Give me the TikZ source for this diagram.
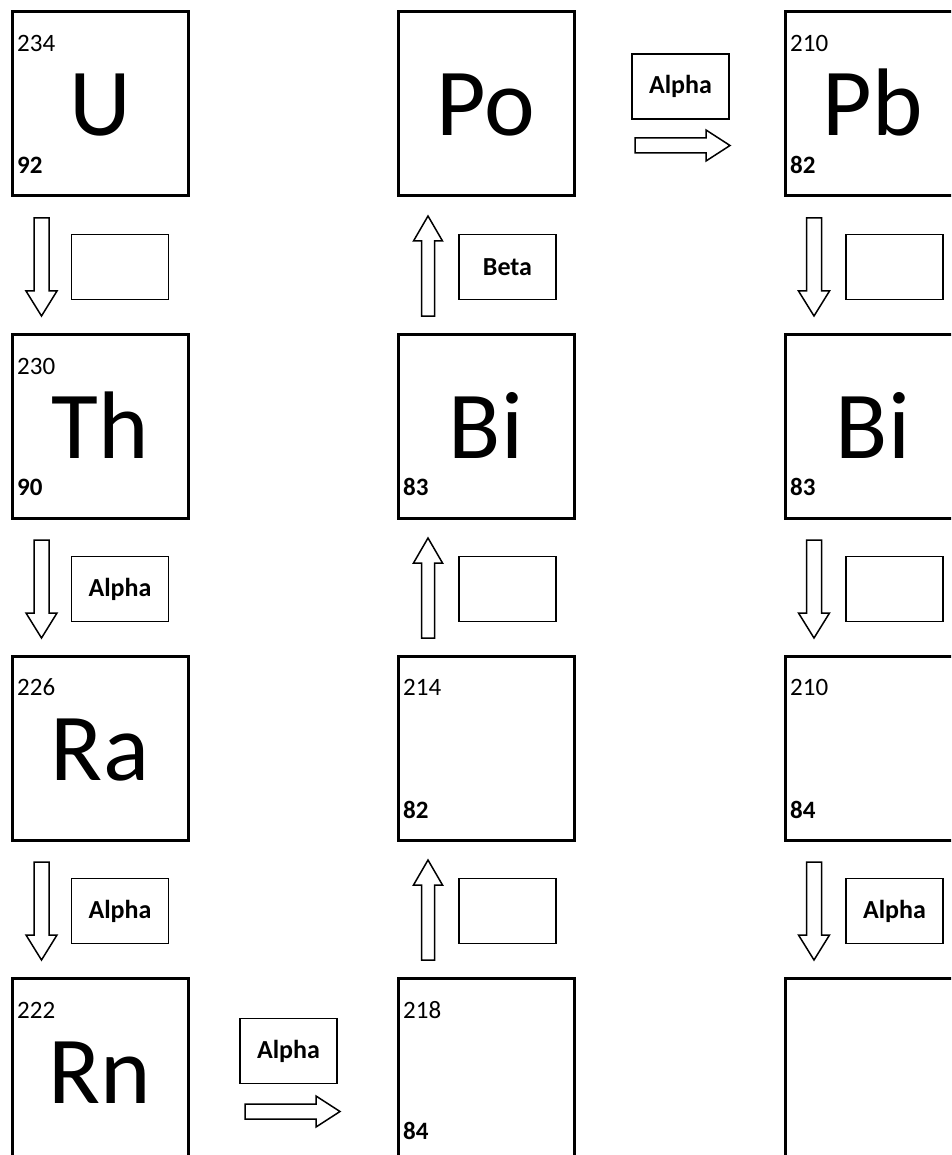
\documentclass[tikz,border=0pt]{standalone}
\usepackage{fontspec}
\setmainfont{Carlito}
\tikzset{
  elbox/.style={draw=black, line width=3pt, minimum width=176pt, minimum height=184pt, inner sep=0pt},
  lblbox/.style={draw=black, line width=1.5pt, minimum width=97pt, minimum height=65pt, inner sep=0pt, font=\fontsize{26}{26}\selectfont\bfseries},
  sym/.style={anchor=base, inner sep=0pt, font=\fontsize{96}{96}\selectfont},
  mass/.style={anchor=base west, inner sep=0pt, font=\fontsize{25}{25}\selectfont},
  anum/.style={anchor=base west, inner sep=0pt, font=\fontsize{25}{25}\selectfont\bfseries},
  arr/.style={draw=black, line width=1.5pt, fill=white, line join=miter},
  darrow/.pic={\path[arr] (-7.5,0) -- (7.5,0) -- (7.5,73) -- (15.5,73) -- (0,98) -- (-15.5,73) -- (-7.5,73) -- cycle;},
  uarrow/.pic={\path[arr] (0,0) -- (14.5,25) -- (6.5,25) -- (6.5,100) -- (-6.5,100) -- (-6.5,25) -- (-14.5,25) -- cycle;},
  rarrow/.pic={\path[arr] (0,-7.5) -- (71,-7.5) -- (71,-15.5) -- (95,0) -- (71,15.5) -- (71,7.5) -- (0,7.5) -- cycle;}
}
\begin{document}
\begin{tikzpicture}[x=1pt,y=-1pt]
\useasboundingbox (0,0) rectangle (951,1155);
\clip (0,0) rectangle (951,1155);
\fill[white] (0,0) rectangle (951,1155);
% column 1
\node[elbox] (u) at (100,104) {};
\node[sym] (usym) at (100,136) {U};
\node[mass] (umass) at (17,52) {234};
\node[anum] (unum) at (17,174) {92};

\node[elbox] (th) at (100,426) {};
\node[sym] (thsym) at (100,458) {Th};
\node[mass] (thmass) at (17,374) {230};
\node[anum] (thnum) at (17,495) {90};

\node[elbox] (ra) at (100,748) {};
\node[sym] (rasym) at (100,780) {Ra};
\node[mass] (ramass) at (17,695) {226};

\node[elbox] (rn) at (100,1070) {};
\node[sym] (rnsym) at (100,1103) {Rn};
\node[mass] (rnmass) at (17,1018) {222};

% column 2
\node[elbox] (po) at (486,104) {};
\node[sym] (posym) at (486,136) {Po};

\node[elbox] (bia) at (486,426) {};
\node[sym] (biasym) at (486,458) {Bi};
\node[anum] (bianum) at (403,495) {83};

\node[elbox] (pb214) at (486,748) {};
\node[mass] (pbmass) at (403,695) {214};
\node[anum] (pbnum) at (403,818) {82};

\node[elbox] (po218) at (486,1070) {};
\node[mass] (pomass) at (403,1018) {218};
\node[anum] (ponum) at (403,1139) {84};

% column 3
\node[elbox] (pb) at (873,104) {};
\node[sym] (pbsym) at (873,136) {Pb};
\node[mass] (pb210mass) at (790,52) {210};
\node[anum] (pb210num) at (790,174) {82};

\node[elbox] (bib) at (873,426) {};
\node[sym] (bibsym) at (873,458) {Bi};
\node[anum] (bibnum) at (790,495) {83};

\node[elbox] (po210) at (873,748) {};
\node[mass] (po210mass) at (790,695) {210};
\node[anum] (po210num) at (790,818) {84};

\node[elbox] (pbend) at (873,1070) {};

% label boxes
\node[lblbox] (l11) at (120,267) {};
\node[lblbox] (l12) at (507.5,267) {Beta};
\node[lblbox] (l13) at (894.5,267) {};
\node[lblbox] (l21) at (120,589) {Alpha};
\node[lblbox] (l22) at (507.5,589) {};
\node[lblbox] (l23) at (894.5,589) {};
\node[lblbox] (l31) at (120,911) {Alpha};
\node[lblbox] (l32) at (507.5,911) {};
\node[lblbox] (l33) at (894.5,911) {Alpha};
\node[lblbox] (ltop) at (680.5,86.5) {Alpha};
\node[lblbox] (lbot) at (288.5,1051) {Alpha};

% arrows
\pic (a11) at (41.5,218) {darrow};
\pic (a21) at (41.5,540) {darrow};
\pic (a31) at (41.5,862) {darrow};
\pic (a13) at (814,218) {darrow};
\pic (a23) at (814,540) {darrow};
\pic (a33) at (814,862) {darrow};
\pic (a12) at (428,216) {uarrow};
\pic (a22) at (428,538) {uarrow};
\pic (a32) at (428,860) {uarrow};
\pic (atop) at (635,145.5) {rarrow};
\pic (abot) at (245,1111.5) {rarrow};
\end{tikzpicture}
\end{document}
